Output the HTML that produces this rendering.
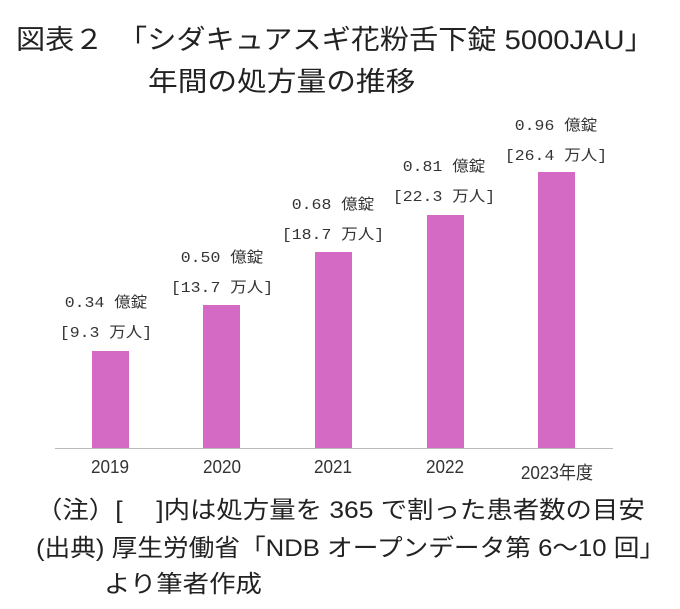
<!DOCTYPE html>
<html><head><meta charset="utf-8"><style>
body{margin:0;width:680px;height:609px;background:#fff;overflow:hidden;position:relative;font-family:"Liberation Sans","Noto Sans CJK JP",sans-serif;color:#222}
.t{position:absolute;white-space:nowrap;transform-origin:0 0}
.bar{position:absolute;background:#d46ac4;width:37px}
.lab{position:absolute;white-space:nowrap;font-family:"Liberation Mono","Noto Sans CJK JP",monospace;font-size:15px;line-height:30px;color:#333;text-align:center;transform:translateX(-50%) scaleX(1.1);}
.cat{position:absolute;white-space:nowrap;font-size:18px;color:#333;transform:translateX(-50%) scaleX(0.95)}
</style></head><body>
<div class="t" style="left:16px;top:18px;font-size:27px;transform:scaleX(1.08)">図表２　「シダキュアスギ花粉舌下錠 5000JAU」</div>
<div class="t" style="left:148px;top:60px;font-size:27px;transform:scaleX(1.1)">年間の処方量の推移</div>

<div style="position:absolute;left:55px;top:448px;width:558px;height:1px;background:#bbb"></div>
<div class="bar" style="left:92px;top:351px;height:97px"></div>
<div class="bar" style="left:203px;top:305px;height:143px"></div>
<div class="bar" style="left:315px;top:252px;height:196px"></div>
<div class="bar" style="left:427px;top:215px;height:233px"></div>
<div class="bar" style="left:538px;top:172px;height:276px"></div>

<div class="lab" style="left:106px;top:289px">0.34 億錠<br>[9.3 万人]</div>
<div class="lab" style="left:222px;top:244px">0.50 億錠<br>[13.7 万人]</div>
<div class="lab" style="left:333px;top:191px">0.68 億錠<br>[18.7 万人]</div>
<div class="lab" style="left:444px;top:153px">0.81 億錠<br>[22.3 万人]</div>
<div class="lab" style="left:556px;top:112px">0.96 億錠<br>[26.4 万人]</div>

<div class="cat" style="left:110px;top:457px">2019</div>
<div class="cat" style="left:222px;top:457px">2020</div>
<div class="cat" style="left:333px;top:457px">2021</div>
<div class="cat" style="left:445px;top:457px">2022</div>
<div class="cat" style="left:557px;top:459px">2023年度</div>

<div class="t" style="left:36px;top:490px;font-size:24px;transform:scaleX(1.1)">（注）[　  ]内は処方量を 365 で割った患者数の目安</div>
<div class="t" style="left:36px;top:528px;font-size:24px;transform:scaleX(1.07)">(出典) 厚生労働省「NDB オープンデータ第 6～10 回」</div>
<div class="t" style="left:104px;top:564px;font-size:24px;transform:scaleX(1.1)">より筆者作成</div>
</body></html>
